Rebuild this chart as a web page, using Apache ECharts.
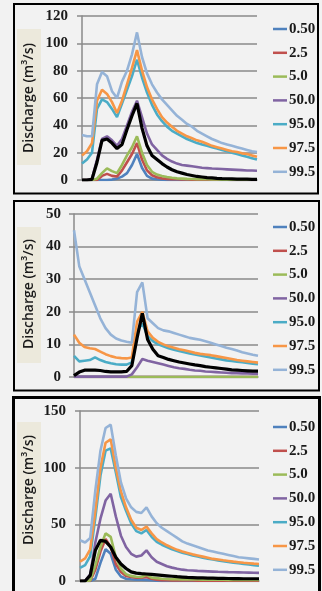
<!DOCTYPE html>
<html>
<head>
<meta charset="utf-8">
<script src="https://cdn.jsdelivr.net/npm/echarts@6/dist/echarts.min.js"></script>
<style>
html,body{margin:0;padding:0;background:#f2f2f2;}
#chart{width:322px;height:591px;}
</style>
</head>
<body>
<div id="chart"></div>
<script>
// ---- categories (time steps along the hydrograph) ----
const steps = ['1','2','3','4','5','6','7','8','9','10','11','12','13','14','15','16','17','18','19','20','21','22','23','24','25','26','27','28','29','30','31','32','33','34','35','36'];

// ---- legend names ----
const seriesNames = ['0.50','2.5','5.0','50.0','95.0','97.5','99.5'];
const seriesColors = ['#4F81BD','#C0504D','#9BBB59','#8064A2','#4BACC6','#F79646','#95B3D7'];
const observedColor = '#000000';

// ---- tick settings per panel ----
const yMax = [120, 50, 150];
const yStep = [20, 10, 50];

// ---- Panel 1 (top) ----
const top_q0_50 = [0,0,0,0,0,0,0.3,1,2.5,5,11,19,9,3,1,0.5,0.2,0,0,0,0,0,0,0,0,0,0,0,0,0,0,0,0,0,0,0];
const top_q2_5  = [0,0,0,0,3,4.5,3,2.5,7,13,19,27,15,7,3.5,2,1.2,0.8,0.6,0.5,0.4,0.35,0.3,0.3,0.25,0.2,0.2,0.2,0.15,0.15,0.1,0.1,0.1,0.1,0.1,0.1];
const top_q5_0  = [0,0,0,1,5,8.5,6.5,5,11,18,24,32,20,11,6,4,3,2.2,1.6,1.2,1,0.8,0.7,0.6,0.5,0.5,0.4,0.4,0.3,0.3,0.3,0.2,0.2,0.2,0.2,0.2];
const top_q50_0 = [0,0,1,15,30,32,29,25,30,40,50,58,46,34,26,22,18,15.5,13.5,12,11,10.5,10,9.5,9,8.7,8.4,8.2,8,7.8,7.6,7.4,7.2,7,6.9,6.8];
const top_q95_0 = [12,15,20,52,59,57,52,46,56,66,76,88,75,64,55,48,43,39,36,34,32,30,28.5,27,26,25,24,23,22,21,20,19,18,17,16,15];
const top_q97_5 = [18,21,27,58,66,63,57,49,58,70,82,95,80,68,59,52,46,42,39,36,34,32,30.5,29,28,26.5,25,24,23,22,21,20.5,19.5,19,18,17];
const top_q99_5 = [33,32,32,70,79,76,65,60,72,80,92,108,90,78,70,64,59,55,51,47,44,41,39,36,34,32,30,28.5,27,26,25,24,23,22,21,20.5];
const top_obs   = [0,0,0.5,13,29,30,27,23,26,37,47,56,38,25,18,15,12,9.5,7.5,6,5,4,3.3,2.6,2.2,1.8,1.5,1.2,1,0.9,0.8,0.7,0.6,0.6,0.5,0.5];

// ---- Panel 2 (middle) ----
const mid_q0_50 = [0,0,0,0,0,0,0,0,0,0,0,0,0,0,0,0,0,0,0,0,0,0,0,0,0,0,0,0,0,0,0,0,0,0,0,0];
const mid_q2_5  = [0,0,0,0,0,0,0,0,0,0,0,0,0,0,0,0,0,0,0,0,0,0,0,0,0,0,0,0,0,0,0,0,0,0,0,0];
const mid_q5_0  = [0,0,0,0,0,0,0,0,0,0,0,0,0,0,0,0,0,0,0,0,0,0,0,0,0,0,0,0,0,0,0,0,0,0,0,0];
const mid_q50_0 = [0.1,0.1,0.1,0.1,0.1,0.1,0.1,0.1,0.1,0.1,0.1,0.8,3,5.5,5,4.6,4.2,3.8,3.4,3,2.7,2.5,2.2,2,1.9,1.7,1.6,1.5,1.4,1.3,1.2,1.2,1.1,1.1,1,1];
const mid_q95_0 = [6.5,4.8,5,5.2,6,5.2,4.6,4.2,3.9,3.8,3.8,4.5,14,16.5,12.5,11,10,9.4,8.8,8.4,8,7.6,7.2,6.9,6.6,6.3,6,5.7,5.4,5.1,4.9,4.7,4.5,4.3,4.1,3.9];
const mid_q97_5 = [13,10.5,9.2,8.8,8.6,7.8,7,6.4,6,5.8,5.7,6,17,20,14,12,10.8,10,9.4,9,8.5,8.2,7.8,7.4,7.1,6.9,6.7,6.4,6.1,5.8,5.5,5.2,5,4.8,4.6,4.4];
const mid_q99_5 = [45,34,30,26,22,18,15,13,11.8,11.2,10.8,10.5,26,29,18,16.5,15,14.3,14,13.5,13,12.5,12,11.7,11.4,11,10.5,10,9.5,9,8.6,8.1,7.6,7.2,6.8,6.5];
const mid_obs   = [0.4,1.5,2.1,2.1,2.1,2,1.7,1.6,1.6,1.6,1.7,3.5,12,19.5,11.5,8.5,6.5,6,5.4,5,4.6,4.3,4,3.7,3.5,3.2,3,2.8,2.6,2.4,2.2,2.1,2,1.9,1.8,1.8];

// ---- Panel 3 (bottom) ----
const bot_q0_50 = [0,0,0,2,16,28,24,10,4,2,1.5,1.2,1.2,1,0.6,0.3,0,0,0,0,0,0,0,0,0,0,0,0,0,0,0,0,0,0,0,0];
const bot_q2_5  = [0,0,0,10,26,37,30,15,8,4.4,3.5,3,3,3.5,2,1.2,0.8,0.6,0.5,0.5,0.4,0.4,0.4,0.3,0.3,0.3,0.3,0.3,0.3,0.2,0.2,0.2,0.2,0.2,0.2,0.2];
const bot_q5_0  = [0,0,0.5,14,30,42,39,21,11,6,4.5,3.8,3.5,5.5,3,2.5,2,1.8,1.6,1.5,1.4,1.4,1.3,1.3,1.2,1.2,1.1,1.1,1.1,1,1,1,1,0.9,0.9,0.9];
const bot_q50_0 = [0,0.2,6,34,55,71,77,57,40,30,24,21.5,22.5,27,21,17,15,13,11.8,10.8,10,9.5,9.2,8.9,8.7,8.5,8.3,8.1,8,7.8,7.7,7.6,7.5,7.4,7.3,7.2];
const bot_q95_0 = [11.5,14,22,56,93,115,117,96,74,62,51,44,42,45,39,34.5,32,30,28,26.5,25,23.8,22.6,21.6,20.6,19.7,18.9,18.2,17.5,16.8,16.2,15.6,15,14.5,14,13.5];
const bot_q97_5 = [17,20,28,62,100,122,125,100,79,65,54,47,45,48,42,37,34,31.5,29.5,27.5,26,24.8,23.5,22.5,21.5,20.5,19.5,19,18.3,17.7,17.1,16.6,16.1,15.7,15.3,15];
const bot_q99_5 = [36,34,38,80,115,135,138,111,87,73,65,61,60,65,57,51,47,44,41,38,35,33,31.5,30,28.5,27,26,25,24,23,22,21,20.5,20,19.5,19];
const bot_obs   = [0,0,5,27,36,35,30,21,15,11,8,7,6.5,6.2,5.8,5.4,5,4.6,4.2,3.8,3.5,3.2,3,2.8,2.7,2.6,2.5,2.4,2.3,2.2,2.1,2.1,2,2,2,2];

const panels = [
  [top_q0_50, top_q2_5, top_q5_0, top_q50_0, top_q95_0, top_q97_5, top_q99_5, top_obs],
  [mid_q0_50, mid_q2_5, mid_q5_0, mid_q50_0, mid_q95_0, mid_q97_5, mid_q99_5, mid_obs],
  [bot_q0_50, bot_q2_5, bot_q5_0, bot_q50_0, bot_q95_0, bot_q97_5, bot_q99_5, bot_obs]
];

// ---- layout ----
const grids = [
  {left: 82, top: 16, width: 175, height: 164},
  {left: 74, top: 214, width: 184, height: 163},
  {left: 80, top: 411, width: 179, height: 170}
];
const labelMargins = [14, 13, 14];
const legendTops = [16, 214, 414];
const titleBoxes = [
  {y: 29, h: 136, cy: 98},
  {y: 227, h: 136, cy: 294},
  {y: 422, h: 137, cy: 490}
];
const gridColor = '#8a8a8a';
const serifFont = '"Liberation Serif", "DejaVu Serif", serif';

const chart = echarts.init(document.getElementById('chart'), null, {renderer: 'canvas'});

const series = [];
panels.forEach((arrs, p) => {
  arrs.forEach((arr, k) => {
    const isObs = k === 7;
    series.push({
      type: 'line',
      name: isObs ? 'Observed' : seriesNames[k],
      xAxisIndex: p, yAxisIndex: p,
      data: arr,
      showSymbol: false,
      symbol: 'none',
      lineStyle: {color: isObs ? observedColor : seriesColors[k], width: isObs ? 3.2 : 2.6},
      itemStyle: {color: isObs ? observedColor : seriesColors[k]},
      z: isObs ? 5 : 2
    });
  });
});

const graphic = [];
titleBoxes.forEach(b => {
  graphic.push({type: 'rect', shape: {x: 17, y: b.y, width: 24, height: b.h}, style: {fill: '#ece9dc'}, z: 1});
  graphic.push({type: 'text', x: 29.5, y: b.cy, rotation: Math.PI / 2,
    style: {text: 'Discharge (m³/s)', fill: '#1a1a1a', font: '600 14px "Open Sans", sans-serif', textAlign: 'center', textVerticalAlign: 'middle'}, z: 2});
});
graphic.push({type: 'rect', shape: {x: 14, y: 4, width: 304, height: 189.5}, style: {fill: 'none', stroke: '#000', lineWidth: 2}, z: 10});
graphic.push({type: 'rect', shape: {x: 14, y: 201, width: 305, height: 189.5}, style: {fill: 'none', stroke: '#000', lineWidth: 2}, z: 10});
graphic.push({type: 'rect', shape: {x: 13.5, y: 397.5, width: 306, height: 220}, style: {fill: 'none', stroke: '#000', lineWidth: 3}, z: 10});

const option = {
  backgroundColor: '#f2f2f2',
  animation: false,
  grid: grids,
  xAxis: grids.map((g, i) => ({
    type: 'category', gridIndex: i, data: steps, boundaryGap: false,
    axisLabel: {show: false}, axisTick: {show: false},
    axisLine: {show: true, lineStyle: {color: gridColor, width: 1.5}},
    splitLine: {show: false}
  })),
  yAxis: grids.map((g, i) => ({
    type: 'value', gridIndex: i, min: 0, max: yMax[i], interval: yStep[i],
    axisLine: {show: true, lineStyle: {color: gridColor, width: 1.5}},
    axisTick: {show: true, length: 5, lineStyle: {color: gridColor, width: 1.5}},
    splitLine: {show: true, lineStyle: {color: gridColor, width: 1.5}},
    axisLabel: {margin: labelMargins[i], fontFamily: serifFont, fontWeight: 'bold', fontSize: 15, color: '#1a1a1a'}
  })),
  legend: legendTops.map(t => ({
    orient: 'vertical', left: 268, top: t,
    data: seriesNames,
    icon: 'rect', itemWidth: 14, itemHeight: 2.5, itemGap: 7.8,
    selectedMode: false,
    textStyle: {fontFamily: serifFont, fontWeight: 'bold', fontSize: 15, color: '#1a1a1a', lineHeight: 16, padding: [0, 0, 0, -3]}
  })),
  graphic: graphic,
  series: series
};
chart.setOption(option);
</script>
</body>
</html>
